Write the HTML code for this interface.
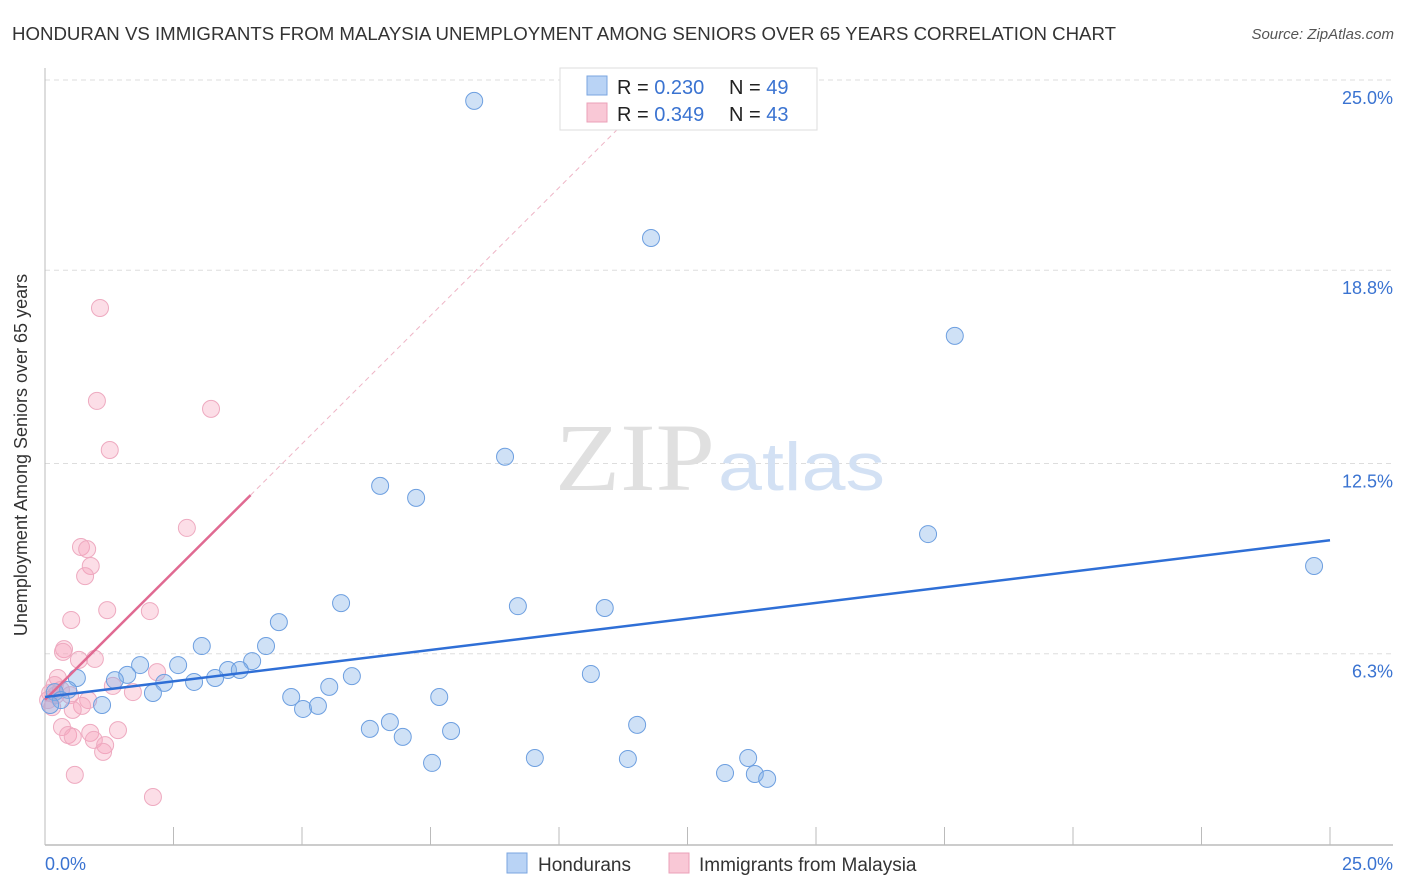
<!DOCTYPE html>
<html><head><meta charset="utf-8"><style>
body{margin:0;background:#fff;font-family:"Liberation Sans",sans-serif;}
svg{display:block}
</style></head><body>
<svg id="chart" width="1406" height="892" xmlns="http://www.w3.org/2000/svg">
<text x="12" y="40" font-size="18" fill="#333" textLength="1104" lengthAdjust="spacingAndGlyphs">HONDURAN VS IMMIGRANTS FROM MALAYSIA UNEMPLOYMENT AMONG SENIORS OVER 65 YEARS CORRELATION CHART</text>
<text x="1394" y="39" font-size="15" fill="#555" font-style="italic" text-anchor="end">Source: ZipAtlas.com</text>
<g id="grid"></g>
<text x="555" y="490" font-family="Liberation Serif,serif" font-size="96" fill="#e0e0e0" textLength="160" lengthAdjust="spacingAndGlyphs">ZIP</text>
<text x="718" y="490" font-size="68" fill="#d3e1f4" textLength="167" lengthAdjust="spacingAndGlyphs">atlas</text>
<g id="axes"></g>
<g id="pinkPts"></g>
<g id="bluePts"></g>
<g id="lines"></g>
<text x="27" y="455" font-size="18" fill="#333" text-anchor="middle" transform="rotate(-90 27 455)">Unemployment Among Seniors over 65 years</text>
<g>
<rect x="560" y="68" width="257" height="62" fill="#fff" stroke="#ddd"/>
<rect x="587" y="76" width="20" height="19" fill="#b9d3f5" stroke="#7aa6e0"/>
<rect x="587" y="103" width="20" height="19" fill="#f9c8d6" stroke="#eba1b8"/>
<text x="617" y="94" font-size="20" fill="#222">R = <tspan fill="#3a73d1">0.230</tspan></text>
<text x="729" y="94" font-size="20" fill="#222">N = <tspan fill="#3a73d1">49</tspan></text>
<text x="617" y="121" font-size="20" fill="#222">R = <tspan fill="#3a73d1">0.349</tspan></text>
<text x="729" y="121" font-size="20" fill="#222">N = <tspan fill="#3a73d1">43</tspan></text>
</g>
<g>
<rect x="507" y="853" width="20" height="20" fill="#b9d3f5" stroke="#7aa6e0"/>
<text x="538" y="871" font-size="19" fill="#333">Hondurans</text>
<rect x="669" y="853" width="20" height="20" fill="#f9c8d6" stroke="#eba1b8"/>
<text x="699" y="871" font-size="19" fill="#333">Immigrants from Malaysia</text>
</g>
</svg>
<script>
const blueX=[8.35,11.79,17.70,8.95,6.52,7.22,17.18,24.69,5.76,9.20,10.89,4.55,3.05,4.30,4.03,2.59,1.85,1.60,1.36,0.62,5.97,10.62,3.56,3.79,3.31,2.90,2.32,5.53,2.10,0.45,0.19,4.79,7.67,1.11,5.02,5.31,0.31,0.10,11.52,6.71,6.32,7.90,6.96,13.68,9.53,11.34,7.53,13.23,13.81,14.05];
const blueY=[24.32,19.85,16.66,12.72,11.77,11.38,10.20,9.16,7.95,7.85,7.79,7.33,6.55,6.55,6.06,5.93,5.93,5.61,5.44,5.51,5.57,5.64,5.77,5.77,5.51,5.38,5.35,5.22,5.02,5.12,5.05,4.89,4.89,4.63,4.50,4.60,4.79,4.63,3.98,4.07,3.85,3.78,3.59,2.90,2.90,2.87,2.74,2.41,2.38,2.22];
const pinkX=[1.07,1.01,3.23,1.26,2.76,0.70,0.82,0.89,0.78,1.21,2.04,0.51,0.37,0.35,0.66,0.97,2.18,0.25,0.19,1.32,1.71,0.31,0.10,0.49,0.84,0.72,0.54,0.14,0.33,0.45,0.54,0.88,1.42,0.95,1.17,1.13,0.58,2.10,0.06,0.21];
const pinkY=[17.57,14.54,14.28,12.94,10.40,9.78,9.71,9.16,8.83,7.72,7.69,7.40,6.45,6.36,6.10,6.13,5.70,5.51,5.28,5.25,5.05,5.12,5.02,4.95,4.79,4.60,4.47,4.56,3.91,3.65,3.59,3.72,3.81,3.49,3.32,3.10,2.35,1.63,4.79,4.95];
const yTicks=[25.0,18.8,12.5,6.3];
const yTickLabels=["25.0%","18.8%","12.5%","6.3%"];
const xTicks=[0,2.5,5,7.5,10,12.5,15,17.5,20,22.5,25];
const blueLine=[[0,4.89],[25,10.0]];
const pinkLine=[[0,4.8],[4.0,11.47]];
const pinkDash=[[4.0,11.47],[12.1,25]];
const NS="http://www.w3.org/2000/svg";
const sx=v=>45+v*51.4, sy=v=>847-v*30.68;
function mk(t,a,p){const e=document.createElementNS(NS,t);for(const k in a)e.setAttribute(k,a[k]);p.appendChild(e);return e;}
const grid=document.getElementById('grid'),axes=document.getElementById('axes');
yTicks.forEach((t,i)=>{
 const l=mk('line',{x1:45,x2:1393,y1:sy(t),y2:sy(t),stroke:'#ddd','stroke-dasharray':'5,4'},grid);
 
 
 const tx=mk('text',{x:1393,y:sy(t)+24,'font-size':18,fill:'#3a73d1','text-anchor':'end'},grid);
 tx.textContent=yTickLabels[i];
 
 
});
let a=mk('line',{x1:45,x2:45,y1:68,y2:845,stroke:'#bbb'},axes);


a=mk('line',{x1:45,x2:1393,y1:845,y2:845,stroke:'#bbb','stroke-width':1.5},axes);


xTicks.forEach(t=>{const l=mk('line',{x1:sx(t),x2:sx(t),y1:827,y2:845,stroke:'#bbb'},axes);
 
 });
[[0,'start','0.0%'],[25,'end','25.0%']].forEach(([v,an,s])=>{const t=mk('text',{x:v==0?45:1393,y:870,'font-size':18,fill:'#3a73d1','text-anchor':an},axes);t.textContent=s;
 
 });
function pts(X,Y,g,fill,stroke,name){X.forEach((x,i)=>{const c=mk('circle',{cx:sx(x),cy:sy(Y[i]),r:8.5,fill:fill,stroke:stroke,'stroke-width':1},g);
 
 });}
pts(pinkX,pinkY,document.getElementById('pinkPts'),'rgba(245,160,185,0.35)','#eeaac0','malaysia-point');
pts(blueX,blueY,document.getElementById('bluePts'),'rgba(130,175,232,0.38)','#6d9fe0','honduran-point');
const lg=document.getElementById('lines');
function ln(p,st,w,dash,name){const l=mk('line',{x1:sx(p[0][0]),y1:sy(p[0][1]),x2:sx(p[1][0]),y2:sy(p[1][1]),stroke:st,'stroke-width':w},lg);if(dash)l.setAttribute('stroke-dasharray',dash);
 
 }
ln(pinkDash,'#eeb5c6',1,'5,4','malaysia-trend-extension');
ln(pinkLine,'#e06a92',2.5,null,'malaysia-trend-line');
ln(blueLine,'#2f6fd6',2.5,null,'honduran-trend-line');
</script>
</body></html>
